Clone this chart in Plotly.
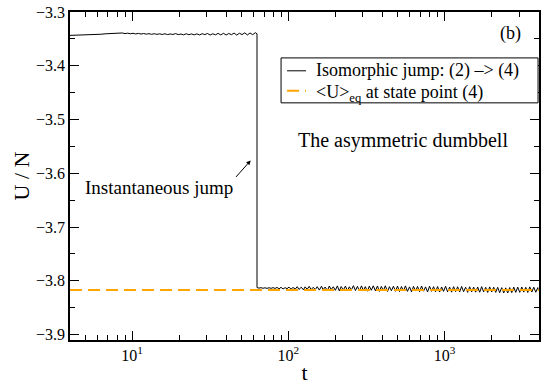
import plotly.graph_objects as go

# Simulation time and potential energy per particle before the isomorphic jump
t_before = [4.0, 4.3, 4.6, 5.0, 5.4, 5.8, 6.3, 6.8, 7.3, 7.7,
            8.0, 8.32, 8.65, 9.0, 9.36, 9.73, 10.12, 10.53, 10.95, 11.39,
            11.84, 12.32, 12.81, 13.32, 13.85, 14.41, 14.98, 15.58, 16.21, 16.86,
            17.53, 18.23, 18.96, 19.72, 20.51, 21.33, 22.18, 23.07, 23.99, 24.95,
            25.95, 26.99, 28.07, 29.19, 30.36, 31.57, 32.83, 34.15, 35.51, 36.93,
            38.41, 39.95, 41.54, 43.21, 44.93, 46.73, 48.6, 50.54, 52.56, 54.67,
            56.85, 59.13, 61.49, 63.0]
u_before = [-3.3435, -3.3433, -3.3431, -3.3428, -3.3424, -3.3420, -3.3414, -3.3405, -3.3400, -3.3396,
            -3.3392, -3.3398, -3.3390, -3.3402, -3.3394, -3.3405, -3.3396, -3.3408, -3.3398, -3.3410,
            -3.3400, -3.3412, -3.3403, -3.3415, -3.3404, -3.3416, -3.3406, -3.3418, -3.3405, -3.3420,
            -3.3408, -3.3418, -3.3402, -3.3420, -3.3410, -3.3424, -3.3405, -3.3422, -3.3408, -3.3425,
            -3.3406, -3.3426, -3.3404, -3.3420, -3.3400, -3.3428, -3.3405, -3.3424, -3.3398, -3.3426,
            -3.3396, -3.3428, -3.3400, -3.3422, -3.3392, -3.3430, -3.3395, -3.3420, -3.3388, -3.3426,
            -3.3390, -3.3422, -3.3385, -3.3405]

# After the jump to state point (4)
t_after = [63, 64.9, 66.8, 68.8, 70.9, 73.0, 75.2, 77.5, 79.8, 82.2,
           84.7, 87.2, 89.8, 92.5, 95.3, 98.1, 101, 104, 107, 111,
           114, 117, 121, 125, 128, 132, 136, 140, 144, 149,
           153, 158, 163, 167, 172, 178, 183, 188, 194, 200,
           206, 212, 218, 225, 232, 239, 246, 253, 261, 269,
           277, 285, 294, 302, 311, 321, 330, 340, 350, 361,
           372, 383, 394, 406, 418, 431, 444, 457, 471, 485,
           500, 515, 530, 546, 562, 579, 597, 615, 633, 652,
           672, 692, 713, 734, 756, 779, 802, 826, 851, 876,
           903, 930, 958, 986, 1016, 1046, 1078, 1110, 1143, 1178,
           1213, 1249, 1287, 1325, 1365, 1406, 1448, 1492, 1536, 1582,
           1630, 1679, 1729, 1781, 1835, 1890, 1946, 2005, 2065, 2127,
           2190, 2256, 2324, 2394, 2465, 2539, 2615, 2694, 2775, 2858,
           2944, 3032, 3123, 3217, 3313, 3413, 3515, 3621, 3729, 3841,
           3956, 4000]
u_after = [-3.8125, -3.8135, -3.8127, -3.8138, -3.8129, -3.8140, -3.8128, -3.8139, -3.8126, -3.8141,
           -3.8122, -3.8148, -3.8120, -3.8152, -3.8126, -3.8146, -3.8116, -3.8155, -3.8124, -3.8150,
           -3.8108, -3.8160, -3.8118, -3.8168, -3.8112, -3.8158, -3.8102, -3.8165, -3.8120, -3.8162,
           -3.8108, -3.8172, -3.8100, -3.8165, -3.8115, -3.8180, -3.8096, -3.8162, -3.8110, -3.8176,
           -3.8094, -3.8186, -3.8106, -3.8172, -3.8098, -3.8184, -3.8110, -3.8174, -3.8090, -3.8180,
           -3.8102, -3.8188, -3.8094, -3.8178, -3.8108, -3.8192, -3.8098, -3.8175, -3.8092, -3.8186,
           -3.8096, -3.8196, -3.8104, -3.8180, -3.8092, -3.8198, -3.8108, -3.8184, -3.8100, -3.8194,
           -3.8098, -3.8200, -3.8106, -3.8186, -3.8094, -3.8196, -3.8112, -3.8204, -3.8102, -3.8190,
           -3.8104, -3.8202, -3.8096, -3.8192, -3.8112, -3.8206, -3.8100, -3.8196, -3.8108, -3.8204,
           -3.8106, -3.8208, -3.8114, -3.8196, -3.8100, -3.8204, -3.8116, -3.8210, -3.8108, -3.8200,
           -3.8110, -3.8208, -3.8104, -3.8202, -3.8118, -3.8214, -3.8110, -3.8206, -3.8116, -3.8210,
           -3.8114, -3.8212, -3.8108, -3.8206, -3.8120, -3.8216, -3.8112, -3.8208, -3.8118, -3.8214,
           -3.8120, -3.8220, -3.8126, -3.8224, -3.8130, -3.8226, -3.8124, -3.8220, -3.8116, -3.8214,
           -3.8116, -3.8214, -3.8114, -3.8210, -3.8120, -3.8216, -3.8112, -3.8208, -3.8118, -3.8212,
           -3.8126, -3.8190]

# Equilibrium average at state point (4)
u_eq = -3.817
t_eq_span = [4.0, 4030.0]

x_tick_vals = [10, 100, 1000]
x_tick_text = ["10<sup>1</sup>", "10<sup>2</sup>", "10<sup>3</sup>"]
x_minor_vals = [5, 6, 7, 8, 9, 20, 30, 40, 50, 60, 70, 80, 90,
                200, 300, 400, 500, 600, 700, 800, 900, 2000, 3000, 4000]

FONT = "Liberation Serif"
ORANGE = "#FFA500"

legend_labels = ["Isomorphic jump: (2) –&gt; (4)",
                 "&lt;U&gt;<sub>eq</sub> at state point (4)"]

fig = go.Figure()
fig.add_trace(go.Scatter(
    x=t_before + t_after, y=u_before + u_after, mode="lines",
    line=dict(color="black", width=1), name=legend_labels[0], showlegend=False,
))
fig.add_trace(go.Scatter(
    x=t_eq_span, y=[u_eq, u_eq], mode="lines",
    line=dict(color=ORANGE, width=2, dash="12px,6px"),
    name=legend_labels[1], showlegend=False,
))

fig.update_xaxes(
    type="log", range=[0.602, 3.605],
    tickmode="array", tickvals=x_tick_vals, ticktext=x_tick_text,
    ticks="inside", ticklen=9, tickwidth=1, tickcolor="black",
    minor=dict(tickmode="array", tickvals=x_minor_vals, ticks="inside",
               ticklen=5, tickcolor="black", showgrid=False),
    showline=True, linecolor="black", linewidth=1.5, mirror="allticks",
    showgrid=False, zeroline=False,
    tickfont=dict(family=FONT, size=16, color="black"),
    title=dict(text="t", font=dict(family=FONT, size=22, color="black"), standoff=2),
)
fig.update_yaxes(
    range=[-3.91, -3.3], dtick=0.1, tick0=-3.9, tickformat=".1f",
    ticks="inside", ticklen=9, tickwidth=1, tickcolor="black",
    minor=dict(dtick=0.05, ticks="inside", ticklen=5, tickcolor="black", showgrid=False),
    showline=True, linecolor="black", linewidth=1.5, mirror="allticks",
    showgrid=False, zeroline=False,
    tickfont=dict(family=FONT, size=16, color="black"),
    title=dict(text="U / N", font=dict(family=FONT, size=22, color="black"), standoff=0),
)

# Legend box drawn in the upper right of the plot area
fig.add_shape(type="rect", xref="paper", yref="paper", x0=0.450, x1=0.998,
              y0=0.723, y1=0.860, line=dict(color="black", width=1),
              fillcolor="white", layer="above")
fig.add_shape(type="line", xref="paper", yref="paper", x0=0.4628, x1=0.5032,
              y0=0.8207, y1=0.8207, line=dict(color="black", width=1))
fig.add_shape(type="line", xref="paper", yref="paper", x0=0.4628, x1=0.5032,
              y0=0.7599, y1=0.7599, line=dict(color=ORANGE, width=2, dash="12px,6px"))
fig.add_annotation(text=legend_labels[0], xref="paper", yref="paper",
                   x=0.520, y=0.8207, xanchor="left", yanchor="middle", showarrow=False,
                   font=dict(family=FONT, size=18, color="black"))
fig.add_annotation(text=legend_labels[1], xref="paper", yref="paper",
                   x=0.520, y=0.752, xanchor="left", yanchor="middle", showarrow=False,
                   font=dict(family=FONT, size=18, color="black"))

fig.add_annotation(text="(b)", xref="paper", yref="paper", x=0.912, y=0.934,
                   xanchor="left", yanchor="middle", showarrow=False,
                   font=dict(family=FONT, size=18, color="black"))
fig.add_annotation(text="The asymmetric dumbbell", xref="paper", yref="paper",
                   x=0.481, y=0.608, xanchor="left", yanchor="middle", showarrow=False,
                   font=dict(family=FONT, size=20, color="black"))
fig.add_annotation(text="Instantaneous jump", xref="paper", yref="paper",
                   x=0.027, y=0.465, xanchor="left", yanchor="middle", showarrow=False,
                   font=dict(family=FONT, size=19, color="black"))
fig.add_annotation(text="", x=1.759, y=-3.576, xref="x", yref="y",
                   showarrow=True, arrowhead=2, arrowsize=0.9, arrowwidth=1,
                   arrowcolor="black", ax=-16, ay=18, standoff=0)

fig.update_layout(
    width=545, height=386,
    margin=dict(l=70, r=4, t=11, b=46),
    plot_bgcolor="white", paper_bgcolor="white",
    showlegend=False,
)

fig.write_html("out.html")
